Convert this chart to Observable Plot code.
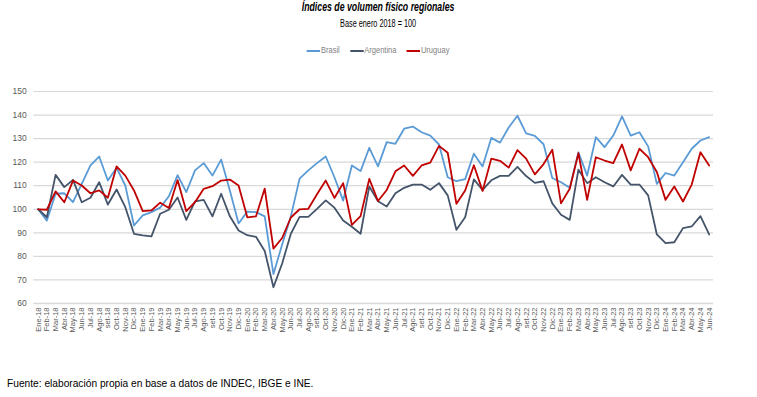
<!DOCTYPE html>
<html><head><meta charset="utf-8">
<script src="https://cdn.jsdelivr.net/npm/d3@7"></script>
<script src="https://cdn.jsdelivr.net/npm/@observablehq/plot@0.6"></script>
<style>
body{margin:0;background:#fff;}
#wrap{position:relative;width:757px;height:397px;overflow:hidden;background:#fff;font-family:"Liberation Sans",Arial,sans-serif;}
.t{position:absolute;white-space:nowrap;}
.c{left:0;width:757px;text-align:center;}
.c > span{display:inline-block;transform-origin:center;}
#title{top:0px;font-weight:bold;font-style:italic;font-size:12.5px;color:#000;}
#title > span{transform:scaleX(0.7);}
#sub{top:18px;font-size:10px;color:#000;}
#sub > span{transform:scaleX(0.73);}
#legend{top:45px;font-size:9px;color:#7f7f7f;}
#legend > span{transform:scaleX(0.84);}
.sw{display:inline-block;width:16px;height:2px;vertical-align:middle;margin-right:1px;}
.it{display:inline-block;margin:0 6px;}
#cap{left:7px;top:378px;font-size:10.2px;color:#000;}
#chart{position:absolute;left:0;top:60px;}
</style></head>
<body><div id="wrap">
<div class="t c" id="title"><span>Índices de volumen físico regionales</span></div>
<div class="t c" id="sub"><span>Base enero 2018 = 100</span></div>
<div class="t c" id="legend"><span id="lgin"></span></div>
<div id="chart"></div>
<div class="t" id="cap">Fuente: elaboración propia en base a datos de INDEC, IBGE e INE.</div>
</div>
<script>
const months = ["Ene-18","Feb-18","Mar-18","Abr-18","May-18","Jun-18","Jul-18","Ago-18","set-18","Oct-18","Nov-18","Dic-18",
"Ene-19","Feb-19","Mar-19","Abr-19","May-19","Jun-19","Jul-19","Ago-19","set-19","Oct-19","Nov-19","Dic-19",
"Ene-20","Feb-20","Mar-20","Abr-20","May-20","Jun-20","Jul-20","Ago-20","set-20","Oct-20","Nov-20","Dic-20",
"Ene-21","Feb-21","Mar-21","Abr-21","May-21","Jun-21","Jul-21","Ago-21","set-21","Oct-21","Nov-21","Dic-21",
"Ene-22","Feb-22","Mar-22","Abr-22","May-22","Jun-22","Jul-22","Ago-22","set-22","Oct-22","Nov-22","Dic-22",
"Ene-23","Feb-23","Mar-23","Abr-23","May-23","Jun-23","Jul-23","Ago-23","set-23","Oct-23","Nov-23","Dic-23",
"Ene-24","Feb-24","Mar-24","Abr-24","May-24","Jun-24"];
const brasil = [100,95.2,106.6,106.8,103,110.8,118.6,122.4,112.2,117.6,110.1,93.1,
97.4,98.8,100.7,105.5,114.5,107.3,116.5,119.6,114.3,121.1,108,94,
99,98.8,97,72.5,85,97,113,116.5,119.6,122.4,113.6,103.7,
118.6,116.2,126.1,118.2,128.5,127.8,134.2,135.1,132.7,131.3,127.5,113.6,
111.9,112.8,123.6,118.2,130.3,128.3,134.7,139.7,132.2,131.2,127.6,113.3,
111.5,109.1,124.2,114.3,130.6,126.4,131.3,139.4,131.3,132.7,126.7,110.8,
115.4,114.3,120,125.7,129.2,130.6];
const argentina = [100,96.6,114.6,109.4,112.5,103,104.9,111.5,102,108.4,100.9,89.6,
88.9,88.5,98.1,99.8,105,95.5,103.4,104,97,106.6,97,91,
89,88.3,82.3,66.9,77,89.6,96.8,96.8,100.2,103.8,100.7,95.2,
92.6,89.6,109.7,103.4,101.2,106.8,109.1,110.5,110.5,108.3,111.1,105.9,
91.3,96.6,112.7,108.2,112.3,114.2,114.2,118,114.1,111.2,111.9,102.5,
97.7,95.5,116.8,111.1,113.6,111.5,109.7,114.6,110.5,110.5,105.9,89.3,
85.6,86,92,92.7,97.1,89.3];
const uruguay = [100,99.8,107.6,103,112.2,110.1,106.8,108,104.9,118.2,114.3,108,
99.2,99.5,102.8,100.5,112.4,99.2,103,108.7,109.8,112.2,112.6,110.1,
96.6,97,108.8,83.3,87.8,96.5,100,100.2,106.4,112.2,104.8,111.1,
93.4,97.1,112.9,103.5,108.2,116.1,118.6,114.2,118.6,119.8,126.9,124,
102.3,108,118.7,107.8,121.5,120.6,117.7,125.1,121.5,114.8,119.2,125.3,
102.5,108.7,123.8,104,122.1,120.7,119.6,127.5,116.5,125.7,122.1,115.8,
104,109.7,103.3,110.5,124.2,118.6];
const seriesNames = ["Brasil","Argentina","Uruguay"];
const seriesColors = ["#5B9BD5","#44546A","#C00000"];
const yTicks = [60,70,80,90,100,110,120,130,140,150];

const rows = [];
[brasil, argentina, uruguay].forEach((arr, s) => arr.forEach((v, i) => rows.push({i, v, s: seriesNames[s]})));
const idx = months.map((m, i) => i);

const plot = Plot.plot({
  width: 757, height: 285,
  marginTop: 31, marginBottom: 42, marginLeft: 33.3, marginRight: 44,
  style: {fontFamily: "'Liberation Sans',sans-serif", background: "transparent"},
  x: {type: "linear", domain: [-0.5, 77.5]},
  y: {domain: [60, 150]},
  color: {domain: seriesNames, range: seriesColors},
  marks: [
    Plot.ruleY(yTicks.filter(d => d > 60), {stroke: "#d9d9d9", strokeWidth: 1.2}),
    Plot.ruleY([60], {stroke: "#d9d9d9", strokeWidth: 1.5}),
    Plot.axisY({ticks: yTicks, tickSize: 0, tickPadding: 7, fontSize: 8.5, fill: "#595959", label: null}),
    Plot.axisX({ticks: idx, tickFormat: i => months[i], tickRotate: -90, tickSize: 0, tickPadding: 4, fontSize: 7.5, fill: "#595959", label: null}),
    Plot.line(rows, {x: "i", y: "v", z: "s", stroke: "s", strokeWidth: 1.8})
  ]
});
document.getElementById("chart").appendChild(plot);

const lg = document.getElementById("lgin");
seriesNames.forEach((n, k) => {
  const it = document.createElement("span");
  it.className = "it";
  it.innerHTML = `<span class="sw" style="background:${seriesColors[k]}"></span>${n}`;
  lg.appendChild(it);
});
</script>
</body></html>
